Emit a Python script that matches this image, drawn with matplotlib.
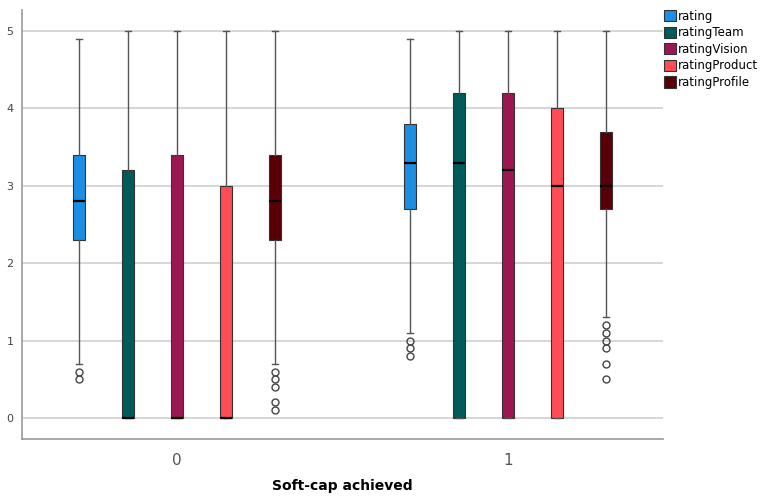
import matplotlib.pyplot as plt
from matplotlib.patches import Patch

groups = ["0", "1"]
series = ["rating", "ratingTeam", "ratingVision", "ratingProduct", "ratingProfile"]
colors = ["#1a8fe3", "#005b5b", "#9c1752", "#ff4d55", "#590006"]

# box summaries per series: [group 0, group 1]
q1 = {
    "rating": [2.3, 2.7],
    "ratingTeam": [0.0, 0.0],
    "ratingVision": [0.0, 0.0],
    "ratingProduct": [0.0, 0.0],
    "ratingProfile": [2.3, 2.7],
}
med = {
    "rating": [2.8, 3.3],
    "ratingTeam": [0.0, 3.3],
    "ratingVision": [0.0, 3.2],
    "ratingProduct": [0.0, 3.0],
    "ratingProfile": [2.8, 3.0],
}
q3 = {
    "rating": [3.4, 3.8],
    "ratingTeam": [3.2, 4.2],
    "ratingVision": [3.4, 4.2],
    "ratingProduct": [3.0, 4.0],
    "ratingProfile": [3.4, 3.7],
}
whislo = {
    "rating": [0.7, 1.1],
    "ratingTeam": [0.0, 0.0],
    "ratingVision": [0.0, 0.0],
    "ratingProduct": [0.0, 0.0],
    "ratingProfile": [0.7, 1.3],
}
whishi = {
    "rating": [4.9, 4.9],
    "ratingTeam": [5.0, 5.0],
    "ratingVision": [5.0, 5.0],
    "ratingProduct": [5.0, 5.0],
    "ratingProfile": [5.0, 5.0],
}
outliers = {
    "rating": [[0.6, 0.5], [1.0, 0.9, 0.8]],
    "ratingTeam": [[], []],
    "ratingVision": [[], []],
    "ratingProduct": [[], []],
    "ratingProfile": [[0.6, 0.5, 0.4, 0.2, 0.1], [1.2, 1.1, 1.0, 0.9, 0.7, 0.5]],
}

fig = plt.figure(figsize=(7.61, 4.96), dpi=100)
ax = fig.add_axes([0.0289, 0.115, 0.8423, 0.865])

step = 0.148
width = 0.036
for gi in range(len(groups)):
    for si, name in enumerate(series):
        pos = gi + (si - 2) * step
        stats = [{
            "q1": q1[name][gi], "med": med[name][gi], "q3": q3[name][gi],
            "whislo": whislo[name][gi], "whishi": whishi[name][gi],
            "fliers": outliers[name][gi],
        }]
        ax.bxp(stats, positions=[pos], widths=width, capwidths=0.016,
               patch_artist=True, manage_ticks=False,
               boxprops=dict(facecolor=colors[si], edgecolor="#333333", linewidth=0.8),
               medianprops=dict(color="black", linewidth=1.6),
               whiskerprops=dict(color="#555555", linewidth=1.0),
               capprops=dict(color="#555555", linewidth=1.0),
               flierprops=dict(marker="o", markersize=5, markerfacecolor="none",
                               markeredgecolor="#444444", markeredgewidth=1.0))

ax.set_xlim(-0.468, 1.468)
ax.set_ylim(-0.271, 5.271)
ax.set_yticks(range(6))
ax.set_xticks(range(len(groups)))
ax.set_xticklabels(groups, fontsize=11, color="#555555")
ax.tick_params(axis="y", labelsize=8, colors="#444444", length=0, pad=6)
ax.tick_params(axis="x", length=0, pad=10)
ax.grid(axis="y", color="#d0d0d0", linewidth=1.2)
ax.set_axisbelow(True)
for side in ["top", "right"]:
    ax.spines[side].set_visible(False)
for side in ["left", "bottom"]:
    ax.spines[side].set_color("#999999")
    ax.spines[side].set_linewidth(1.2)

ax.set_xlabel("Soft-cap achieved", fontsize=10, fontweight="bold", labelpad=8)

handles = [Patch(facecolor=c, edgecolor="#333333", linewidth=0.8) for c in colors]
fig.legend(handles, series, loc="upper left", bbox_to_anchor=(0.866, 0.99),
           frameon=False, fontsize=8.5, handlelength=1.0, handleheight=1.1,
           handletextpad=0.2, labelspacing=0.3, borderaxespad=0)

fig.savefig("out.png", dpi=100)
